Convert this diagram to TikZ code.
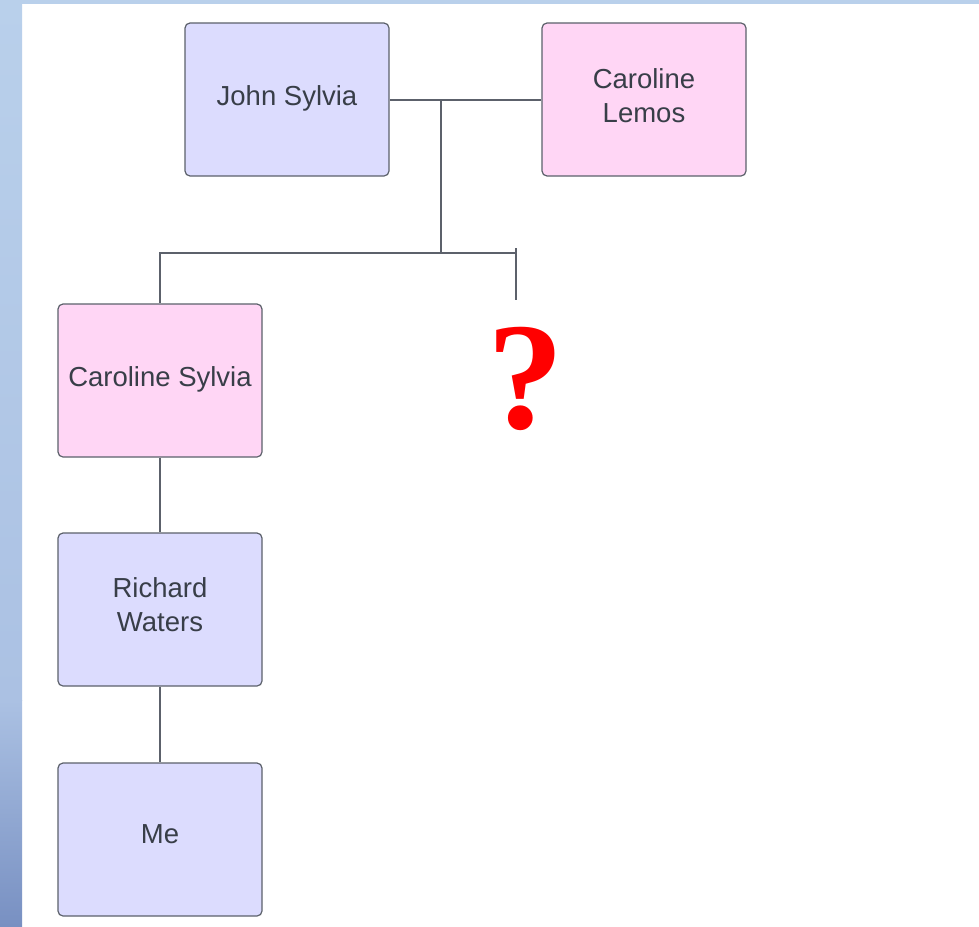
\documentclass[tikz,border=0pt]{standalone}
\usepackage{fontspec}
\setmainfont{Liberation Sans}
\newfontfamily\qfont{Liberation Serif}
\definecolor{pbox}{HTML}{DCDCFE}
\definecolor{pinkbox}{HTML}{FFD6F5}
\definecolor{edge}{HTML}{5C616B}
\definecolor{txt}{HTML}{383E48}
\definecolor{stripA}{HTML}{B9D0EB}
\definecolor{stripB}{HTML}{ABC1E3}
\definecolor{stripC}{HTML}{7890C2}
\begin{document}
\begin{tikzpicture}[x=1pt,y=-1pt,
  person/.style={draw=edge, line width=1.2pt, rounded corners=5pt,
    minimum width=204pt, minimum height=153pt, inner sep=0pt,
    text=txt, align=center},
  ptext/.style={text=txt, font=\fontsize{27.5}{34}\selectfont, align=center, inner sep=0pt},
  male/.style={person, fill=pbox},
  female/.style={person, fill=pinkbox},
  link/.style={draw=edge, line width=1.3pt}]
\useasboundingbox (0,0) rectangle (979,926);
\fill[white] (0,0) rectangle (979,926);
\fill[stripA] (0,0) rectangle (979,4);
\shade[top color=stripA, bottom color=stripB] (0,0) rectangle (22,700);
\shade[top color=stripB, bottom color=stripC] (0,700) rectangle (22,926);
\node[male] (john) at (287,99.5) {};
\node[female] (lemos) at (644,99.5) {};
\node[female] (csyl) at (160,380.5) {};
\node[male] (rich) at (160,609.5) {};
\node[male] (me) at (160,839.5) {};
\node[ptext] (tjohn) at (287,98.5) {John Sylvia};
\node[ptext] (tlemos) at (644,95.5) {Caroline\\Lemos};
\node[ptext] (tcsyl) at (160,379) {Caroline Sylvia};
\node[ptext] (trich) at (160,605) {Richard\\Waters};
\node[ptext] (tme) at (160,834.5) {Me};
\node[text=red, font=\qfont\bfseries\fontsize{153}{153}\selectfont, anchor=base, inner sep=0pt] (qm) at (526,428) {?};
\coordinate (j1) at (441,100);
\coordinate (j2) at (441,253);
\coordinate (qt) at (516,248);
\coordinate (qb) at (516,300);
\draw[link] (john.east |- j1) -- (lemos.west |- j1);
\draw[link] (j1) -- (j2);
\draw[link] (csyl.north) |- (qt |- j2);
\draw[link] (qt) -- (qb);
\draw[link] (csyl.south) -- (rich.north);
\draw[link] (rich.south) -- (me.north);
\end{tikzpicture}
\end{document}
